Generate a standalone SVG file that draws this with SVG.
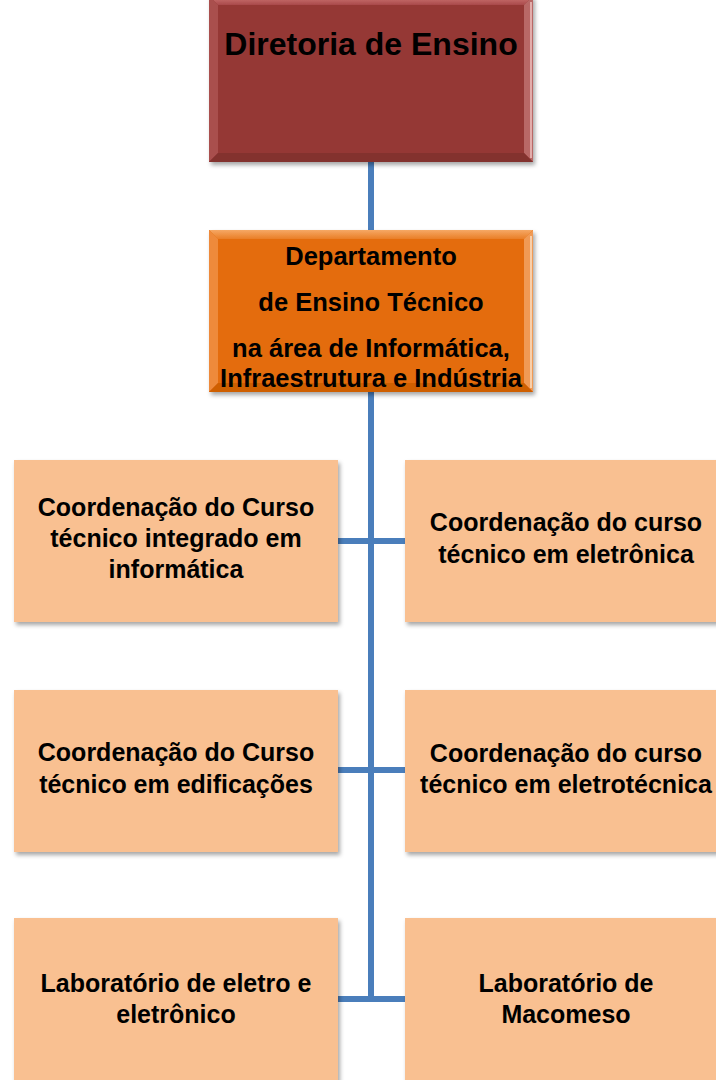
<svg xmlns="http://www.w3.org/2000/svg" width="716" height="1080" viewBox="0 0 716 1080">
<defs>
<filter id="sh" x="-10%" y="-10%" width="125%" height="130%">
<feDropShadow dx="2" dy="3" stdDeviation="2.2" flood-color="#000" flood-opacity="0.35"/>
</filter>
<linearGradient id="topTop" x1="0" y1="0" x2="0" y2="1"><stop offset="0" stop-color="#d07a78"/><stop offset="1" stop-color="#a9494a"/></linearGradient>
<linearGradient id="dTop" x1="0" y1="0" x2="0" y2="1"><stop offset="0" stop-color="#f6a865"/><stop offset="1" stop-color="#e97e26"/></linearGradient>
</defs>
<style>
.t{font-family:"Liberation Sans",Arial,sans-serif;font-weight:bold;fill:#000;text-anchor:middle}
.leaf{fill:#F9C091}
.conn{stroke:#4A7EBB;stroke-width:6;fill:none}
</style>
<g id="connectors">
<line class="conn" x1="371" y1="160" x2="371" y2="1000"/>
<line class="conn" x1="336" y1="541" x2="407" y2="541"/>
<line class="conn" x1="336" y1="770" x2="407" y2="770"/>
<line class="conn" x1="336" y1="999" x2="407" y2="999"/>
</g>
<g id="n-diretoria">
<g filter="url(#sh)">
<rect x="209" y="-4" width="324" height="166" fill="#953735"/>
<polygon points="209,-4 533,-4 524,5 218,5" fill="url(#topTop)"/>
<polygon points="209,-4 218,5 218,153 209,162" fill="#a9504e"/>
<polygon points="533,-4 533,162 524,153 524,5" fill="#b86866"/>
<polygon points="209,162 533,162 524,153 218,153" fill="#83302e"/>
<line x1="531" y1="2" x2="531" y2="158" stroke="#f2c4c3" stroke-width="1.5"/>
<rect x="218" y="5" width="306" height="148" fill="#953735"/>
</g>
<text class="t" x="371" y="55" font-size="32">Diretoria de Ensino</text>
</g>
<g id="n-departamento">
<g filter="url(#sh)">
<rect x="209" y="230" width="324" height="162" fill="#E46C0A"/>
<polygon points="209,230 533,230 524,239 218,239" fill="url(#dTop)"/>
<polygon points="209,230 218,239 218,383 209,392" fill="#ee8a3a"/>
<polygon points="533,230 533,392 524,383 524,239" fill="#f09a55"/>
<polygon points="209,392 533,392 524,383 218,383" fill="#cf5f06"/>
<line x1="531" y1="236" x2="531" y2="388" stroke="#fde0c6" stroke-width="1.5"/>
<rect x="218" y="239" width="306" height="144" fill="#E46C0A"/>
</g>
<text class="t" font-size="25.5" x="371" y="265">Departamento</text>
<text class="t" font-size="25.5" x="371" y="311">de Ensino Técnico</text>
<text class="t" font-size="25.5" x="371" y="357">na área de Informática,</text>
<text class="t" font-size="25.5" x="371" y="387">Infraestrutura e Indústria</text>
</g>
<g id="n-informatica">
<rect class="leaf" x="14" y="460" width="324" height="162" filter="url(#sh)"/>
<text class="t" font-size="25" x="176" y="516">Coordenação do Curso</text>
<text class="t" font-size="25" x="176" y="547">técnico integrado em</text>
<text class="t" font-size="25" x="176" y="578">informática</text>
</g>
<g id="n-eletronica">
<rect class="leaf" x="405" y="460" width="324" height="162" filter="url(#sh)"/>
<text class="t" font-size="25" x="566" y="531">Coordenação do curso</text>
<text class="t" font-size="25" x="566" y="563">técnico em eletrônica</text>
</g>
<g id="n-edificacoes">
<rect class="leaf" x="14" y="690" width="324" height="162" filter="url(#sh)"/>
<text class="t" font-size="25" x="176" y="761">Coordenação do Curso</text>
<text class="t" font-size="25" x="176" y="793">técnico em edificações</text>
</g>
<g id="n-eletrotecnica">
<rect class="leaf" x="405" y="690" width="324" height="162" filter="url(#sh)"/>
<text class="t" font-size="25" x="566" y="762">Coordenação do curso</text>
<text class="t" font-size="25" x="566" y="793">técnico em eletrotécnica</text>
</g>
<g id="n-lab-eletro">
<rect class="leaf" x="14" y="918" width="324" height="166" filter="url(#sh)"/>
<text class="t" font-size="25" x="176" y="992">Laboratório de eletro e</text>
<text class="t" font-size="25" x="176" y="1023">eletrônico</text>
</g>
<g id="n-lab-macomeso">
<rect class="leaf" x="405" y="918" width="324" height="166" filter="url(#sh)"/>
<text class="t" font-size="25" x="566" y="992">Laboratório de</text>
<text class="t" font-size="25" x="566" y="1023">Macomeso</text>
</g>
</svg>
